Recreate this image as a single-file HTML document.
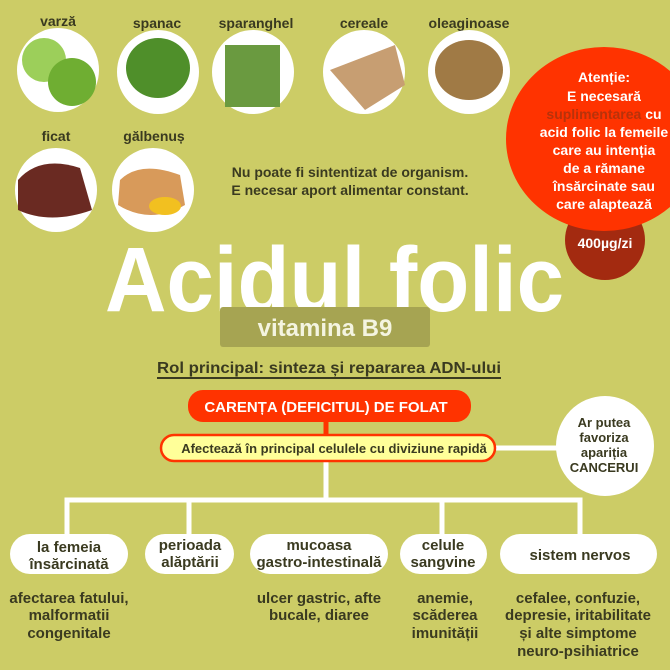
<!DOCTYPE html>
<html><head><meta charset="utf-8"><style>
html,body{margin:0;padding:0;background:#cccc66;}
svg{display:block;font-family:"Liberation Sans",sans-serif;}
</style></head><body>
<svg width="670" height="670" viewBox="0 0 670 670" xmlns="http://www.w3.org/2000/svg">
<rect width="670" height="670" fill="#cccc66"/>
<!-- food labels -->
<g font-size="14" font-weight="bold" fill="#3a3a20" text-anchor="middle">
<text x="58" y="26">varză</text>
<text x="157" y="28">spanac</text>
<text x="256" y="28">sparanghel</text>
<text x="364" y="28">cereale</text>
<text x="469" y="28">oleaginoase</text>
<text x="56" y="141">ficat</text>
<text x="154" y="141">gălbenuș</text>
</g>
<!-- food images -->
<ellipse cx="58" cy="70" rx="41" ry="42" fill="#fff"/>
<circle cx="44" cy="60" r="22" fill="#9ccf5a"/><circle cx="72" cy="82" r="24" fill="#6fae32"/>
<ellipse cx="158" cy="72" rx="41" ry="42" fill="#fff"/>
<ellipse cx="158" cy="68" rx="32" ry="30" fill="#4f8f2a"/>
<ellipse cx="253" cy="72" rx="41" ry="42" fill="#fff"/>
<rect x="225" y="45" width="55" height="62" fill="#6a9a40"/>
<ellipse cx="364" cy="72" rx="41" ry="42" fill="#fff"/>
<path d="M330 70 L395 45 L405 85 L365 110 Z" fill="#c79e72"/>
<ellipse cx="469" cy="72" rx="41" ry="42" fill="#fff"/>
<ellipse cx="469" cy="70" rx="34" ry="30" fill="#a07a45"/>
<ellipse cx="56" cy="190" rx="41" ry="42" fill="#fff"/>
<path d="M18 180 Q40 155 80 168 L92 210 Q50 225 18 210 Z" fill="#6a2a22"/>
<ellipse cx="153" cy="190" rx="41" ry="42" fill="#fff"/>
<path d="M120 180 Q140 160 180 175 L185 205 Q150 225 118 205 Z" fill="#d89a5a"/>
<ellipse cx="165" cy="206" rx="16" ry="9" fill="#f2c020"/>
<!-- note -->
<g font-size="14" font-weight="bold" fill="#3a3a20" text-anchor="middle">
<text x="350" y="177">Nu poate fi sintentizat de organism.</text>
<text x="350" y="195">E necesar aport alimentar constant.</text>
</g>
<!-- red bubbles -->
<circle cx="605" cy="240" r="40" fill="#a32a10"/>
<text x="605" y="248" font-size="14" font-weight="bold" fill="#fff" text-anchor="middle">400µg/zi</text>
<ellipse cx="604" cy="139" rx="98" ry="92" fill="#ff3300"/>
<g font-size="14" font-weight="bold" fill="#fff" text-anchor="middle">
<text x="604" y="82">Atenție:</text>
<text x="604" y="101">E necesară</text>
<text x="604" y="119"><tspan fill="#b8320a">suplimentarea</tspan> cu</text>
<text x="604" y="137">acid folic la femeile</text>
<text x="604" y="155">care au intenția</text>
<text x="604" y="173">de a rămane</text>
<text x="604" y="191">însărcinate sau</text>
<text x="604" y="209">care alaptează</text>
</g>
<!-- title -->
<text x="105" y="311" font-size="92" font-weight="bold" fill="#fff" textLength="459" lengthAdjust="spacingAndGlyphs">Acidul folic</text>
<rect x="220" y="307" width="210" height="40" rx="3" fill="#a6a452"/>
<text x="325" y="336" font-size="24" font-weight="bold" fill="#f4f4e0" text-anchor="middle">vitamina B9</text>
<text x="157" y="373" font-size="16" font-weight="bold" fill="#3a3a20" textLength="344" lengthAdjust="spacingAndGlyphs">Rol principal: sinteza și repararea ADN-ului</text>
<rect x="157" y="377" width="344" height="2" fill="#3a3a20"/>
<!-- connectors -->
<g stroke="#fff" stroke-width="5" fill="none">
<line x1="326" y1="420" x2="326" y2="438" stroke="#ff3300"/>
<line x1="495" y1="448" x2="560" y2="448"/>
<line x1="326" y1="460" x2="326" y2="500"/>
<polyline points="67,535 67,500 580,500 580,535"/>
<line x1="189" y1="500" x2="189" y2="535"/>
<line x1="442" y1="500" x2="442" y2="535"/>
</g>
<rect x="188" y="390" width="283" height="32" rx="15" fill="#ff3300"/>
<text x="326" y="412" font-size="15" font-weight="bold" fill="#fff" text-anchor="middle">CARENȚA (DEFICITUL) DE FOLAT</text>
<rect x="161" y="435" width="334" height="26" rx="13" fill="#ffff99" stroke="#ff3300" stroke-width="2.5"/>
<text x="334" y="453" font-size="13" font-weight="bold" fill="#3a3a20" text-anchor="middle">Afectează în principal celulele cu diviziune rapidă</text>
<ellipse cx="605" cy="446" rx="49" ry="50" fill="#fff"/>
<g font-size="13" font-weight="bold" fill="#3a3a20" text-anchor="middle">
<text x="604" y="427">Ar putea</text>
<text x="604" y="442">favoriza</text>
<text x="604" y="457">apariția</text>
<text x="604" y="472">CANCERUI</text>
</g>
<!-- nodes -->
<g fill="#fff">
<rect x="10" y="534" width="118" height="40" rx="20"/>
<rect x="145" y="534" width="89" height="40" rx="20"/>
<rect x="250" y="534" width="138" height="40" rx="20"/>
<rect x="400" y="534" width="87" height="40" rx="20"/>
<rect x="500" y="534" width="157" height="40" rx="20"/>
</g>
<g font-size="15" font-weight="bold" fill="#3a3a20" text-anchor="middle">
<text x="69" y="552">la femeia</text>
<text x="69" y="569">însărcinată</text>
<text x="190" y="550">perioada</text>
<text x="190" y="567">alăptării</text>
<text x="319" y="550">mucoasa</text>
<text x="319" y="567">gastro-intestinală</text>
<text x="443" y="550">celule</text>
<text x="443" y="567">sangvine</text>
<text x="580" y="560">sistem nervos</text>
<text x="69" y="603">afectarea fatului,</text>
<text x="69" y="620">malformatii</text>
<text x="69" y="638">congenitale</text>
<text x="319" y="603">ulcer gastric, afte</text>
<text x="319" y="620">bucale, diaree</text>
<text x="445" y="603">anemie,</text>
<text x="445" y="620">scăderea</text>
<text x="445" y="638">imunității</text>
<text x="578" y="603">cefalee, confuzie,</text>
<text x="578" y="620">depresie, iritabilitate</text>
<text x="578" y="638">și alte simptome</text>
<text x="578" y="656">neuro-psihiatrice</text>
</g>
</svg>
</body></html>
